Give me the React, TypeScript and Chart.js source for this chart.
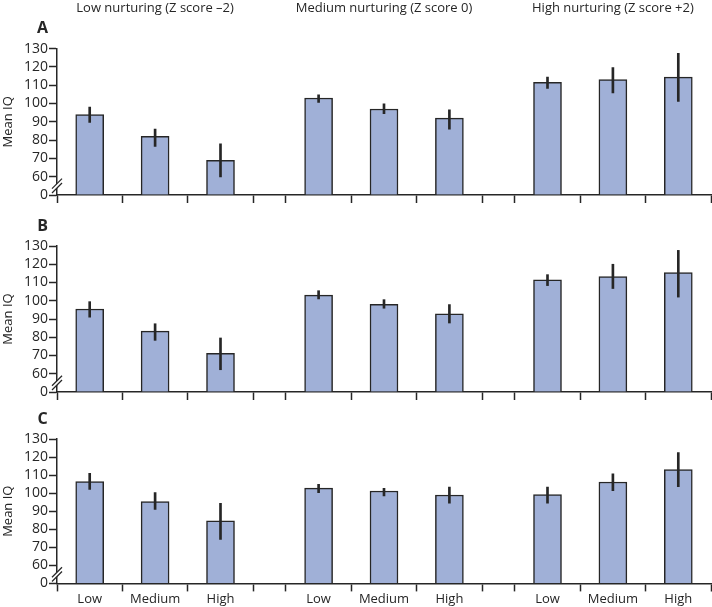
import React, { useEffect, useRef } from 'react';
import { Chart, registerables } from 'chart.js';

Chart.register(...registerables);

// ---------- data ----------
const groupTitles = ['Low nurturing (Z score –2)', 'Medium nurturing (Z score 0)', 'High nurturing (Z score +2)'];
const levelLabels = ['Low', 'Medium', 'High'];
const yTickValues = [0, 60, 70, 80, 90, 100, 110, 120, 130];
const yTitle = 'Mean IQ';

const meanA = [94, 82, 69, 103, 97, 92, 111.6, 113.1, 114.4];
const lowerA = [89.7, 76.5, 59, 100.6, 94.4, 86, 108.3, 105.8, 101.2];
const upperA = [98.1, 86, 78, 104.7, 99.8, 96.6, 114.4, 119.6, 127.4];

const meanB = [95.5, 83.4, 71.2, 103.1, 98, 92.9, 111.4, 113.2, 115.4];
const lowerB = [91, 78.3, 62.2, 101, 95.9, 87.8, 108.3, 106.7, 102];
const upperB = [99.5, 87.4, 79.6, 105.5, 100.6, 97.9, 114.3, 120, 127.6];

const meanC = [106.4, 95.3, 84.7, 102.8, 101.2, 99, 99.2, 106.2, 113.1];
const lowerC = [102.1, 91, 74.3, 100.3, 98.4, 94.4, 94.4, 101.4, 103.6];
const upperC = [111, 100.3, 94.3, 104.9, 102.7, 103.3, 103.3, 110.7, 122.5];

// ---------- styles / layout ----------
const FONT = "'Open Sans', 'Noto Sans', sans-serif";
const INK = '#262626';
const BAR_FILL = '#a0b0d7';
const GROUP_GAP = 0.5;
const BREAK_VALUE = 60;
const STEP = 10;

function toAxis(v: number): number {
  return v >= BREAK_VALUE ? v - BREAK_VALUE + STEP : (v * STEP) / BREAK_VALUE;
}

const nGroups = groupTitles.length;
const nLevels = levelLabels.length;
const groupStart = (g: number) => g * (nLevels + GROUP_GAP);
const xMax = groupStart(nGroups - 1) + nLevels;

const barPositions: number[] = [];
const boundaryPositions: number[] = [];
const groupCenters: number[] = [];
for (let g = 0; g < nGroups; g++) {
  for (let l = 0; l < nLevels; l++) barPositions.push(groupStart(g) + l + 0.5);
  for (let l = 0; l <= nLevels; l++) boundaryPositions.push(groupStart(g) + l);
  groupCenters.push(groupStart(g) + nLevels / 2);
}
const boundarySet = new Set(boundaryPositions);
const barLabelMap = new Map<number, string>();
barPositions.forEach((p, i) => barLabelMap.set(p, levelLabels[i % nLevels]));
const groupTitleMap = new Map<number, string>();
groupCenters.forEach((p, i) => groupTitleMap.set(p, groupTitles[i]));
const bottomTicks = Array.from(new Set([...boundaryPositions, ...barPositions])).sort((a, b) => a - b);
const yLabelMap = new Map<number, string>();
yTickValues.forEach((v) => yLabelMap.set(toAxis(v), String(v)));

const breakPlugin = {
  id: 'axisBreak',
  afterDraw(chart: any) {
    const ys = chart.scales.y;
    const left = chart.chartArea.left;
    const py = (ys.getPixelForValue(toAxis(0)) + ys.getPixelForValue(toAxis(BREAK_VALUE))) / 2;
    const ctx = chart.ctx;
    ctx.save();
    const dx = 5, dy = 5, gap = 2.2;
    ctx.fillStyle = '#ffffff';
    ctx.beginPath();
    ctx.moveTo(left - dx, py + dy - gap);
    ctx.lineTo(left + dx, py - dy - gap);
    ctx.lineTo(left + dx, py - dy + gap);
    ctx.lineTo(left - dx, py + dy + gap);
    ctx.closePath();
    ctx.fill();
    ctx.strokeStyle = INK;
    ctx.lineWidth = 1.3;
    for (const off of [-gap, gap]) {
      ctx.beginPath();
      ctx.moveTo(left - dx, py + dy + off);
      ctx.lineTo(left + dx, py - dy + off);
      ctx.stroke();
    }
    ctx.restore();
  },
};

const letterPlugin = {
  id: 'panelLetter',
  afterDraw(chart: any, _args: any, opts: any) {
    if (!opts || !opts.text) return;
    const ctx = chart.ctx;
    ctx.save();
    ctx.font = `bold 16px ${FONT}`;
    ctx.fillStyle = INK;
    ctx.textAlign = 'center';
    ctx.textBaseline = 'middle';
    ctx.fillText(opts.text, chart.chartArea.left - 14.5, chart.chartArea.top - 20);
    ctx.restore();
  },
};

type PanelProps = {
  letter: string;
  mean: number[];
  lower: number[];
  upper: number[];
  showTitles: boolean;
  showLevels: boolean;
  height: number;
  padTop: number;
  padBottom: number;
};

function Panel(p: PanelProps) {
  const ref = useRef<HTMLCanvasElement>(null);
  useEffect(() => {
    if (!ref.current) return;
    const scales: any = {
      x: {
        type: 'linear',
        position: 'bottom',
        min: 0,
        max: xMax,
        offset: false,
        afterBuildTicks: (s: any) => {
          s.ticks = bottomTicks.map((v) => ({ value: v }));
        },
        grid: {
          display: true,
          offset: false,
          drawOnChartArea: false,
          drawTicks: true,
          tickLength: 8,
          tickWidth: 1.5,
          tickColor: (c: any) => (c.tick && boundarySet.has(c.tick.value) ? INK : 'rgba(0,0,0,0)'),
        },
        border: { display: true, color: INK, width: 1.5 },
        ticks: {
          display: p.showLevels,
          autoSkip: false,
          maxRotation: 0,
          minRotation: 0,
          padding: 0,
          color: INK,
          font: { family: FONT, size: 13 },
          callback: (v: number) => barLabelMap.get(v) ?? '',
        },
      },
      y: {
        type: 'linear',
        min: 0,
        max: toAxis(yTickValues[yTickValues.length - 1]),
        afterBuildTicks: (s: any) => {
          s.ticks = yTickValues.map((v) => ({ value: toAxis(v) }));
        },
        afterFit: (s: any) => {
          s.width = 57;
        },
        grid: { display: true, drawOnChartArea: false, tickLength: 8, tickWidth: 1.5, tickColor: INK },
        border: { display: true, color: INK, width: 1.5 },
        ticks: {
          autoSkip: false,
          padding: 1,
          color: INK,
          font: { family: FONT, size: 14 },
          callback: (v: number) => yLabelMap.get(v) ?? '',
        },
        title: {
          display: true,
          text: yTitle,
          color: INK,
          font: { family: FONT, size: 13 },
          padding: { top: 0, bottom: 0 },
        },
      },
    };
    if (p.showTitles) {
      scales.xTop = {
        type: 'linear',
        position: 'top',
        min: 0,
        max: xMax,
        offset: false,
        afterBuildTicks: (s: any) => {
          s.ticks = groupCenters.map((v) => ({ value: v }));
        },
        grid: { display: true, drawOnChartArea: false, drawTicks: true, tickLength: 33, tickColor: 'rgba(0,0,0,0)' },
        border: { display: false },
        ticks: {
          autoSkip: false,
          maxRotation: 0,
          minRotation: 0,
          padding: 0,
          color: INK,
          font: { family: FONT, size: 13 },
          callback: (v: number) => groupTitleMap.get(v) ?? '',
        },
      };
    }
    const chart = new Chart(ref.current, {
      type: 'bar',
      data: {
        datasets: [
          {
            label: 'CI',
            data: barPositions.map((x, i) => ({ x, y: [toAxis(p.lower[i]), toAxis(p.upper[i])] })) as any,
            backgroundColor: INK,
            borderWidth: 0,
            barThickness: 2,
            grouped: false,
            order: 0,
          },
          {
            label: 'Mean',
            data: barPositions.map((x, i) => ({ x, y: toAxis(p.mean[i]) })) as any,
            backgroundColor: BAR_FILL,
            borderColor: INK,
            borderWidth: 1.5,
            barThickness: 28,
            grouped: false,
            order: 1,
          },
        ],
      },
      options: {
        animation: false,
        responsive: true,
        maintainAspectRatio: false,
        layout: { padding: { top: p.padTop, bottom: p.padBottom, left: 0, right: 1 } },
        scales,
        plugins: {
          legend: { display: false },
          tooltip: { enabled: false },
          title: { display: false },
          panelLetter: { text: p.letter },
        } as any,
      },
      plugins: [breakPlugin, letterPlugin],
    } as any);
    return () => chart.destroy();
  }, []);
  return (
    <div style={{ position: 'relative', width: 712, height: p.height }}>
      <canvas ref={ref} />
    </div>
  );
}

export default function App() {
  return (
    <div style={{ position: 'absolute', left: 0, top: 0, width: 712, height: 607, background: '#fff' }}>
      <Panel letter="A" mean={meanA} lower={lowerA} upper={upperA} showTitles={true} showLevels={false} height={210} padTop={0} padBottom={7} />
      <Panel letter="B" mean={meanB} lower={lowerB} upper={upperB} showTitles={false} showLevels={false} height={195} padTop={36} padBottom={5} />
      <Panel letter="C" mean={meanC} lower={lowerC} upper={upperC} showTitles={false} showLevels={true} height={202} padTop={34} padBottom={0} />
    </div>
  );
}
